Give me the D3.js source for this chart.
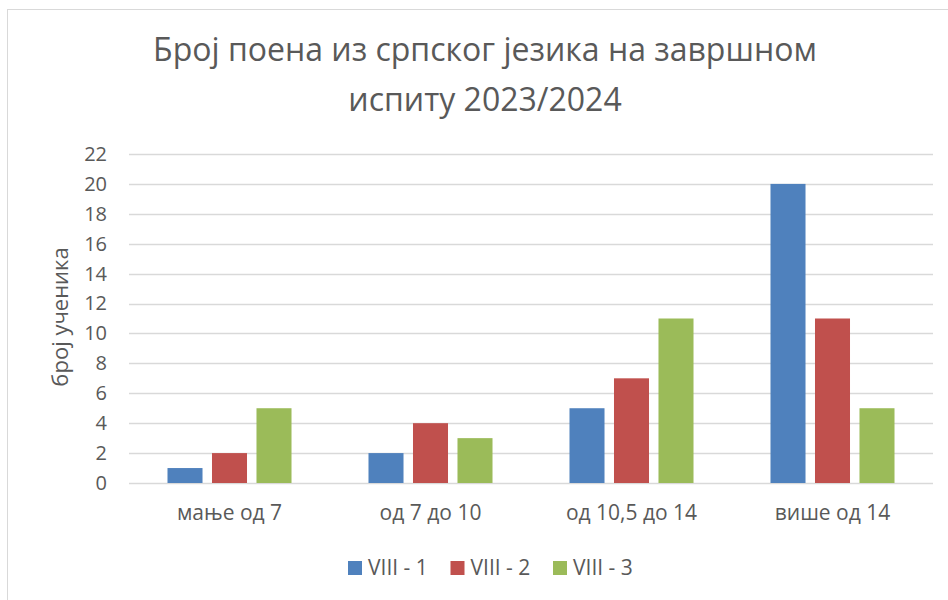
<!DOCTYPE html>
<html>
<head>
<meta charset="utf-8">
<script src="https://cdn.jsdelivr.net/npm/d3@7"></script>
<style>
    body { margin: 0; background: #fff; }
    text { font-family: "Open Sans", "Noto Sans", sans-serif; fill: #595959; }
</style>
</head>
<body>
<script>

    var categories = ["мање од 7", "од 7 до 10", "од 10,5 до 14", "више од 14"];
    var seriesNames = ["VIII - 1", "VIII - 2", "VIII - 3"];
    var seriesValues = [
        [1, 2, 5, 20],
        [2, 4, 7, 11],
        [5, 3, 11, 5]
    ];
    var yTicks = [0, 2, 4, 6, 8, 10, 12, 14, 16, 18, 20, 22];
    var colors = ["#4F81BD", "#C0504D", "#9BBB59"];

    var width = 948, height = 600;
    var plotLeft = 129, plotRight = 933, plotTop = 154, plotBottom = 483;

    var svg = d3.select("body").append("svg")
        .attr("width", width)
        .attr("height", height);

    // chart frame
    svg.append("rect")
        .attr("x", 7.5).attr("y", 9.5)
        .attr("width", 1000).attr("height", 1000)
        .attr("fill", "none")
        .attr("stroke", "#d9d9d9");

    // title
    var title = svg.append("text")
        .attr("text-anchor", "middle")
        .attr("font-size", 32);
    title.append("tspan").attr("x", 485).attr("y", 61).text("Број поена из српског језика на завршном");
    title.append("tspan").attr("x", 485).attr("y", 111).text("испиту 2023/2024");

    var y = d3.scaleLinear().domain([0, 22]).range([plotBottom, plotTop]);

    var x0 = d3.scaleBand()
        .domain(categories)
        .range([plotLeft, plotRight])
        .paddingInner(0.383)
        .paddingOuter(0.1915);

    var x1 = d3.scaleBand()
        .domain(d3.range(seriesNames.length))
        .range([0, x0.bandwidth()])
        .paddingInner(0.213);

    // grid
    svg.append("g")
        .selectAll("line")
        .data(yTicks)
        .enter()
        .append("line")
        .attr("x1", plotLeft).attr("x2", plotRight)
        .attr("y1", function (d) { return Math.round(y(d)) + 0.5; })
        .attr("y2", function (d) { return Math.round(y(d)) + 0.5; })
        .attr("stroke", "#d9d9d9")
        .attr("stroke-width", 1.3);

    // y axis labels
    var yAxis = svg.append("g")
        .attr("transform", "translate(" + (plotLeft - 22) + ",0)")
        .call(d3.axisLeft(y).tickValues(yTicks).tickSize(0).tickPadding(0));
    yAxis.select(".domain").remove();
    yAxis.selectAll("text")
        .attr("font-size", 20)
        .attr("fill", "#595959")
        .style("font-family", "'Open Sans', sans-serif");

    // bars
    var groups = svg.append("g")
        .selectAll("g")
        .data(categories)
        .enter()
        .append("g")
        .attr("transform", function (d) { return "translate(" + x0(d) + ",0)"; });

    groups.selectAll("rect")
        .data(function (d, ci) {
            return seriesValues.map(function (vals, si) { return { s: si, v: vals[ci] }; });
        })
        .enter()
        .append("rect")
        .attr("x", function (d) { return x1(d.s); })
        .attr("width", x1.bandwidth())
        .attr("y", function (d) { return y(d.v); })
        .attr("height", function (d) { return y(0) - y(d.v); })
        .attr("fill", function (d) { return colors[d.s]; });

    // x axis labels
    var xAxis = svg.append("g")
        .attr("transform", "translate(0," + plotBottom + ")")
        .call(d3.axisBottom(x0).tickSize(0).tickPadding(22));
    xAxis.select(".domain").remove();
    xAxis.selectAll("text")
        .attr("font-size", 21)
        .attr("fill", "#595959")
        .style("font-family", "'Open Sans', sans-serif");

    // y axis title
    svg.append("text")
        .attr("transform", "translate(68,317) rotate(-90)")
        .attr("text-anchor", "middle")
        .attr("font-size", 22)
        .text("број ученика");

    // legend
    var legend = svg.append("g")
        .selectAll("g")
        .data(seriesNames)
        .enter()
        .append("g")
        .attr("transform", function (d, i) { return "translate(" + (348 + i * 102.5) + ",561)"; });

    legend.append("rect")
        .attr("width", 14).attr("height", 14)
        .attr("fill", function (d, i) { return colors[i]; });

    legend.append("text")
        .attr("x", 20)
        .attr("y", 14)
        .attr("font-size", 21)
        .text(function (d) { return d; });

</script>
</body>
</html>
